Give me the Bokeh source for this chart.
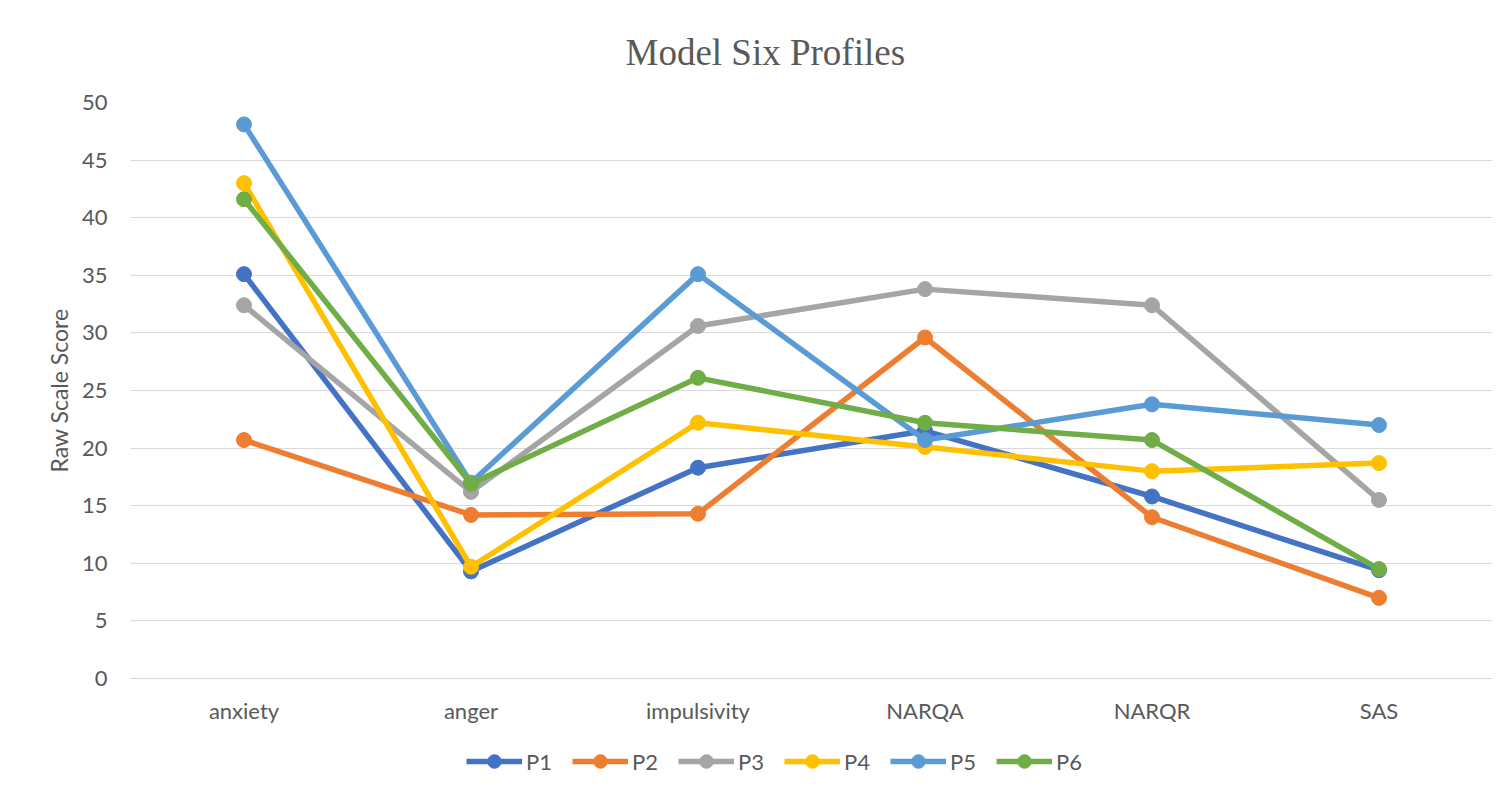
from bokeh.plotting import figure
from bokeh.models import Range1d, FactorRange, FixedTicker, Legend, LegendItem, ColumnDataSource
from bokeh.layouts import column
from bokeh.embed import file_html
from bokeh.resources import INLINE

categories = ["anxiety", "anger", "impulsivity", "NARQA", "NARQR", "SAS"]
series_names = ["P1", "P2", "P3", "P4", "P5", "P6"]
p1 = [35.1, 9.3, 18.3, 21.5, 15.8, 9.4]
p2 = [20.7, 14.2, 14.3, 29.6, 14.0, 7.0]
p3 = [32.4, 16.2, 30.6, 33.8, 32.4, 15.5]
p4 = [43.0, 9.7, 22.2, 20.1, 18.0, 18.7]
p5 = [48.1, 17.0, 35.1, 20.7, 23.8, 22.0]
p6 = [41.6, 16.9, 26.1, 22.2, 20.7, 9.5]
series_values = [p1, p2, p3, p4, p5, p6]
colors = ["#4472C4", "#ED7D31", "#A5A5A5", "#FFC000", "#5B9BD5", "#70AD47"]
y_ticks = [0, 5, 10, 15, 20, 25, 30, 35, 40, 45, 50]

TXT = "#595959"
FONT = "Lato"

p = figure(width=1503, height=728, x_range=FactorRange(*categories, range_padding=0),
           y_range=Range1d(0, 50), output_backend="svg", toolbar_location=None,
           min_border_left=130, min_border_right=11, min_border_top=102, min_border_bottom=50,
           title="Model Six Profiles")

p.title.align = "left"
p.title.offset = 495
p.title.text_font = "Liberation Serif"
p.title.text_font_size = "37px"
p.title.text_font_style = "normal"
p.title.text_color = TXT
p.title.standoff = 59

p.outline_line_color = None
p.xgrid.grid_line_color = None
p.ygrid.grid_line_color = "#D9D9D9"
p.ygrid.grid_line_width = 1

p.yaxis.ticker = FixedTicker(ticks=y_ticks)
p.yaxis.axis_line_color = None
p.yaxis.major_tick_line_color = None
p.yaxis.minor_tick_line_color = None
p.yaxis.major_label_standoff = 17
p.yaxis.axis_label = "Raw Scale Score"
p.yaxis.axis_label_standoff = 6
p.yaxis.axis_label_text_font = FONT
p.yaxis.axis_label_text_font_size = "23px"
p.yaxis.axis_label_text_font_style = "normal"
p.yaxis.axis_label_text_color = TXT

p.xaxis.axis_line_color = "#D9D9D9"
p.xaxis.major_tick_line_color = None
p.xaxis.minor_tick_line_color = None
p.xaxis.major_label_standoff = 12

for ax in (p.xaxis, p.yaxis):
    ax.major_label_text_font = FONT
    ax.major_label_text_font_size = "22px"
    ax.major_label_text_color = TXT

# legend figure (its renderers hold points outside its visible range)
lf = figure(width=1503, height=62, x_range=Range1d(0, 1), y_range=Range1d(0, 1),
            output_backend="svg", toolbar_location=None,
            min_border_left=0, min_border_right=0, min_border_top=0, min_border_bottom=0)
lf.axis.visible = False
lf.grid.visible = False
lf.outline_line_color = None

items = []
for name, vals, col in zip(series_names, series_values, colors):
    src = ColumnDataSource(dict(x=categories, y=vals))
    p.line("x", "y", source=src, line_color=col, line_width=5.5)
    p.scatter("x", "y", source=src, size=15, fill_color=col, line_color=col)
    hidden = ColumnDataSource(dict(x=[10, 11], y=[10, 10]))
    l1 = lf.line("x", "y", source=hidden, line_color=col, line_width=5.5)
    l2 = lf.scatter("x", "y", source=hidden, size=15, fill_color=col, line_color=col)
    items.append(LegendItem(label=name, renderers=[l1, l2]))

legend = Legend(items=items, orientation="horizontal", location=(336, 12))
legend.glyph_width = 56
legend.glyph_height = 34
legend.label_standoff = 4
legend.spacing = 20
legend.padding = 5
legend.label_text_font = FONT
legend.label_text_font_size = "22px"
legend.label_text_color = TXT
legend.border_line_color = None
legend.background_fill_alpha = 0
lf.add_layout(legend, "center")

open("out.html", "w").write(file_html(column(p, lf, spacing=0), INLINE))
